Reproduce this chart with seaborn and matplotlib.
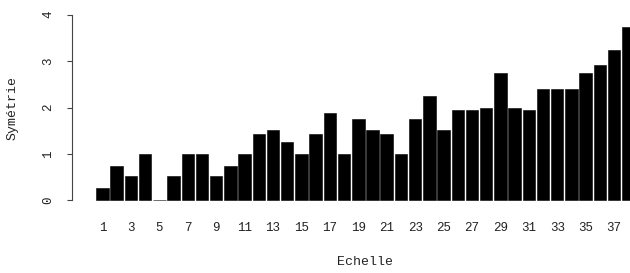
import matplotlib
matplotlib.use("Agg")
import matplotlib.pyplot as plt
import seaborn as sns

# bar heights (38 bars, last one cut by the edge)
echelle = list(range(1, 39))
symetrie = [0.27, 0.75, 0.52, 1.0, 0.0, 0.52, 1.0, 1.0, 0.52, 0.75,
            1.0, 1.42, 1.52, 1.25, 1.0, 1.42, 1.88, 1.0, 1.75, 1.52,
            1.42, 1.0, 1.75, 2.24, 1.52, 1.94, 1.94, 2.0, 2.74, 2.0,
            1.94, 2.4, 2.4, 2.4, 2.74, 2.92, 3.24, 3.73]
y_ticks = [0, 1, 2, 3, 4]
x_labels = [str(i) for i in echelle[::2]]

sns.set_style("white")
plt.rcParams['font.family'] = ['Liberation Mono', 'DejaVu Sans Mono']

W, H = 630, 273
fig = plt.figure(figsize=(W / 100, H / 100), dpi=100)
ax = fig.add_axes([72 / W, (H - 205) / H, 1 - 72 / W, 205 / H])

sns.barplot(x=echelle, y=symetrie, color="black", width=0.88,
            edgecolor="black", linewidth=0.4, saturation=1, ax=ax)

ax.set_xlim(-2.146, 37.12)
ax.set_ylim(-0.101, 200.3 / 46.4)

for s in ["top", "right", "bottom"]:
    ax.spines[s].set_visible(False)
ax.spines["left"].set_bounds(0, 4)
ax.spines["left"].set_color("#444444")
ax.spines["left"].set_linewidth(0.8)

ax.set_yticks(y_ticks)
ax.set_yticklabels([str(t) for t in y_ticks], rotation=90, va="center")
ax.tick_params(axis="y", left=True, length=3.6, width=0.8, color="#444444",
               pad=9, labelsize=9, labelcolor="#222222")

ax.set_xticks(range(0, 38, 2))
ax.set_xticklabels(x_labels)
ax.tick_params(axis="x", bottom=False, length=0, pad=12, labelsize=9,
               labelcolor="#222222")

ax.set_xlabel("")
ax.set_ylabel("")
fig.text(365 / W, 1 - 262 / H, "Echelle", ha="center", va="center",
         fontsize=9.5, color="#222222")
fig.text(13 / W, 1 - 108 / H, "Symétrie", ha="center", va="center",
         rotation=90, fontsize=9.5, color="#222222")

fig.savefig("out.png", dpi=100)
